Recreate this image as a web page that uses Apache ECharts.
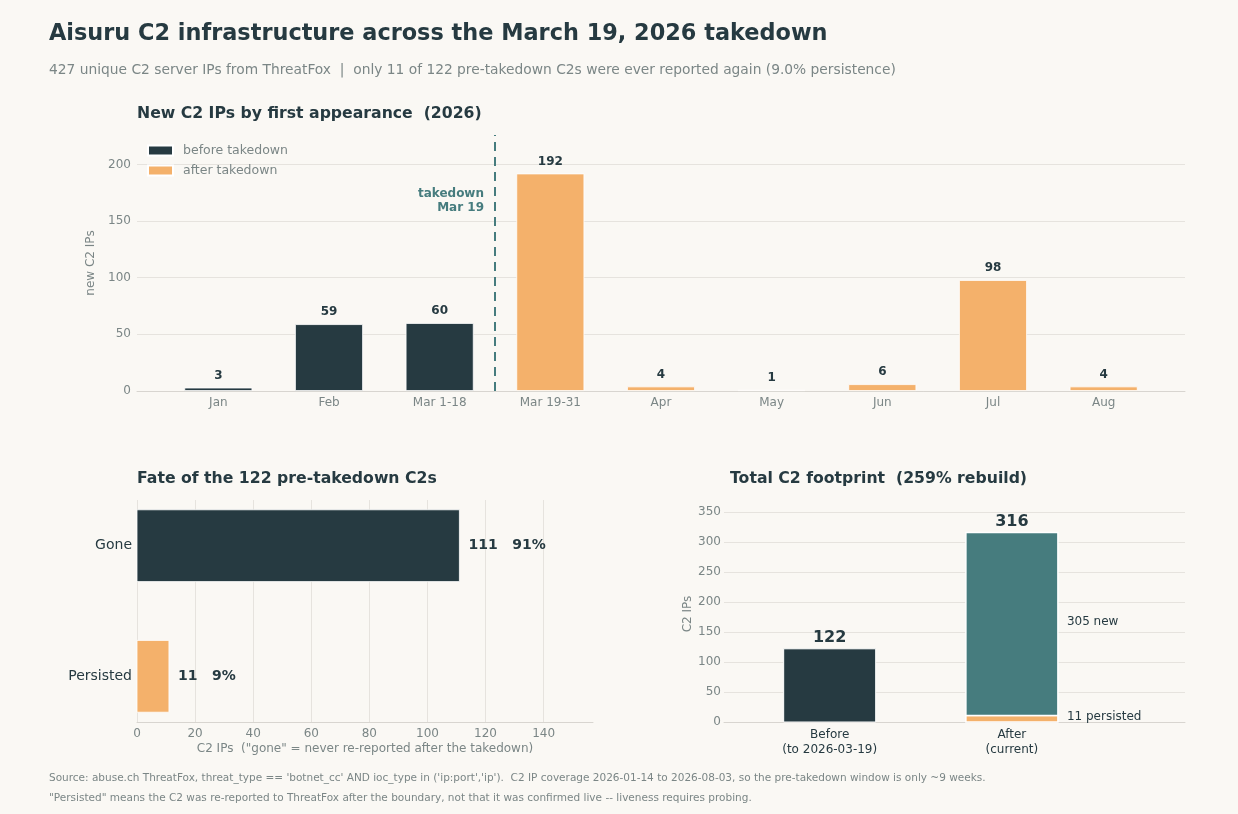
<!DOCTYPE html>
<html>
<head>
<meta charset="utf-8">
<script src="https://cdn.jsdelivr.net/npm/echarts@6/dist/echarts.min.js"></script>
<style>
  html, body { margin: 0; padding: 0; background: #faf8f4; }
  #container { width: 1238px; height: 814px; }
</style>
</head>
<body>
<div id="container"></div>
<script>
// monthly new C2 IPs by first appearance
var months = ['Jan', 'Feb', 'Mar 1-18', 'Mar 19-31', 'Apr', 'May', 'Jun', 'Jul', 'Aug'];
var newIps = [3, 59, 60, 192, 4, 1, 6, 98, 4];
var firstAfterIndex = 3;

// fate of the pre-takedown C2s
var fateCats = ['Gone', 'Persisted'];
var fateValues = [111, 11];
var fatePct = [91, 9];

// total footprint
var footprintCats = ['Before\n(to 2026-03-19)', 'After\n(current)'];
var beforeTotal = 122;
var afterPersisted = 11;
var afterNew = 305;
var afterTotal = 316;

var DARK = '#263a41';
var ORANGE = '#f4b16b';
var TEAL = '#467c7e';
var GRAY = '#7b8686';
var GRID = '#e6e3de';
var AXIS = '#d8d5d0';
var FONT = 'DejaVu Sans';

var dom = document.getElementById('container');
var myChart = echarts.init(dom);

var beforeData = [];
var afterData = [];
newIps.forEach(function (v, i) {
    if (i < firstAfterIndex) {
        beforeData.push([i, v]);
    } else {
        afterData.push([i, v]);
    }
});

var fateData = fateValues.map(function (v, i) {
    return [v, 1 - i, i];
});

// [x, low, high, colour, top label, side label]
var footprintData = [
    [0, 0, beforeTotal, DARK, String(beforeTotal), ''],
    [1, 0, afterPersisted, ORANGE, '', afterPersisted + ' persisted'],
    [1, afterPersisted, afterPersisted + afterNew, TEAL, String(afterTotal), afterNew + ' new']
];

var barLabel = {
    show: true,
    position: 'top',
    distance: 6,
    color: DARK,
    fontWeight: 'bold',
    fontSize: 12
};

var option = {
    backgroundColor: '#faf8f4',
    textStyle: { fontFamily: FONT },
    animation: false,
    title: [{
        text: 'Aisuru C2 infrastructure across the March 19, 2026 takedown',
        left: 44, top: 18,
        textStyle: { color: DARK, fontSize: 22.4, fontWeight: 'bold', fontFamily: FONT }
    }, {
        text: '427 unique C2 server IPs from ThreatFox  |  only 11 of 122 pre-takedown C2s were ever reported again (9.0% persistence)',
        left: 44, top: 58,
        textStyle: { color: GRAY, fontSize: 13.8, fontWeight: 'normal', fontFamily: FONT }
    }, {
        text: 'New C2 IPs by first appearance  (2026)',
        left: 132, top: 101,
        textStyle: { color: DARK, fontSize: 15.7, fontWeight: 'bold', fontFamily: FONT }
    }, {
        text: 'Fate of the 122 pre-takedown C2s',
        left: 132, top: 466,
        textStyle: { color: DARK, fontSize: 15.7, fontWeight: 'bold', fontFamily: FONT }
    }, {
        text: 'Total C2 footprint  (259% rebuild)',
        left: 725, top: 466,
        textStyle: { color: DARK, fontSize: 15.7, fontWeight: 'bold', fontFamily: FONT }
    }, {
        text: "Source: abuse.ch ThreatFox, threat_type == 'botnet_cc' AND ioc_type in ('ip:port','ip').  C2 IP coverage 2026-01-14 to 2026-08-03, so the pre-takedown window is only ~9 weeks.",
        left: 44, top: 768,
        textStyle: { color: GRAY, fontSize: 10.5, fontWeight: 'normal', fontFamily: FONT }
    }, {
        text: '"Persisted" means the C2 was re-reported to ThreatFox after the boundary, not that it was confirmed live -- liveness requires probing.',
        left: 44, top: 788,
        textStyle: { color: GRAY, fontSize: 10.5, fontWeight: 'normal', fontFamily: FONT }
    }],
    legend: {
        data: ['before takedown', 'after takedown'],
        orient: 'vertical',
        left: 142, top: 139,
        itemWidth: 25, itemHeight: 10,
        itemGap: 7,
        icon: 'rect',
        textStyle: { color: GRAY, fontSize: 12.5, fontFamily: FONT, padding: [0, 0, 0, 5] }
    },
    grid: [
        { left: 137, right: 53, top: 135, bottom: 423 },
        { left: 137, right: 645, top: 500, bottom: 92 },
        { left: 724, right: 53, top: 506, bottom: 92 }
    ],
    xAxis: [{
        gridIndex: 0,
        type: 'value',
        min: -0.735, max: 8.735,
        axisLine: { show: true, onZero: false, lineStyle: { color: AXIS } },
        axisTick: { show: false },
        splitLine: { show: false },
        axisLabel: {
            customValues: months.map(function (m, i) { return i; }),
            formatter: function (v) { return months[Math.round(v)]; },
            color: GRAY, fontSize: 12, margin: 6
        }
    }, {
        gridIndex: 1,
        type: 'value',
        min: 0, max: 157, interval: 20,
        name: 'C2 IPs  ("gone" = never re-reported after the takedown)',
        nameLocation: 'middle',
        nameGap: 21,
        nameTextStyle: { color: GRAY, fontSize: 12 },
        axisLine: { show: true, onZero: false, lineStyle: { color: AXIS } },
        axisTick: { show: false },
        splitLine: { show: true, showMaxLine: false, lineStyle: { color: GRID } },
        axisLabel: { color: GRAY, fontSize: 12, margin: 6, showMaxLabel: false }
    }, {
        gridIndex: 2,
        type: 'value',
        min: -0.58, max: 1.95,
        axisLine: { show: true, onZero: false, lineStyle: { color: AXIS } },
        axisTick: { show: false },
        splitLine: { show: false },
        axisLabel: {
            customValues: [0, 1],
            formatter: function (v) { return footprintCats[Math.round(v)]; },
            color: DARK, fontSize: 12, lineHeight: 15, margin: 5
        }
    }],
    yAxis: [{
        gridIndex: 0,
        type: 'value',
        min: 0, max: 226, interval: 50,
        name: 'new C2 IPs',
        nameLocation: 'middle',
        nameGap: 32,
        nameTextStyle: { color: GRAY, fontSize: 12 },
        axisLine: { show: false, onZero: false },
        axisTick: { show: false },
        splitLine: { show: true, showMaxLine: false, lineStyle: { color: GRID } },
        axisLabel: { color: GRAY, fontSize: 12, margin: 6, showMaxLabel: false }
    }, {
        gridIndex: 1,
        type: 'value',
        min: -0.35, max: 1.35,
        axisLine: { show: false, onZero: false },
        axisTick: { show: false },
        splitLine: { show: false },
        axisLabel: {
            customValues: [0, 1],
            formatter: function (v) { return fateCats[1 - Math.round(v)]; },
            color: DARK, fontSize: 14, margin: 5
        }
    }, {
        gridIndex: 2,
        type: 'value',
        min: 0, max: 360, interval: 50,
        name: 'C2 IPs',
        nameLocation: 'middle',
        nameGap: 30,
        nameTextStyle: { color: GRAY, fontSize: 12 },
        axisLine: { show: false, onZero: false },
        axisTick: { show: false },
        splitLine: { show: true, showMaxLine: false, lineStyle: { color: GRID } },
        axisLabel: { color: GRAY, fontSize: 12, margin: 3, showMaxLabel: false }
    }],
    series: [{
        name: 'before takedown',
        type: 'bar',
        xAxisIndex: 0, yAxisIndex: 0,
        data: beforeData,
        barWidth: 68,
        barGap: '-100%',
        itemStyle: { color: DARK, borderColor: '#ffffff', borderWidth: 0.8 },
        label: barLabel
    }, {
        name: 'after takedown',
        type: 'bar',
        xAxisIndex: 0, yAxisIndex: 0,
        data: afterData,
        barWidth: 68,
        barGap: '-100%',
        itemStyle: { color: ORANGE, borderColor: '#ffffff', borderWidth: 0.8 },
        label: barLabel,
        markLine: {
            silent: true,
            symbol: 'none',
            lineStyle: { color: TEAL, type: [9, 6], width: 2 },
            label: { show: false },
            data: [{ xAxis: firstAfterIndex - 0.5 }]
        },
        markPoint: {
            silent: true,
            symbolSize: 0,
            label: {
                show: true,
                position: 'left',
                distance: 11,
                align: 'right',
                color: TEAL,
                fontWeight: 'bold',
                fontSize: 12,
                lineHeight: 14,
                formatter: 'takedown\nMar 19'
            },
            data: [{ coord: [firstAfterIndex - 0.5, 168] }]
        }
    }, {
        name: 'fate',
        type: 'custom',
        xAxisIndex: 1, yAxisIndex: 1,
        data: fateData,
        renderItem: function (params, api) {
            var val = api.value(0);
            var y = api.value(1);
            var i = api.value(2);
            var start = api.coord([0, y]);
            var end = api.coord([val, y]);
            var h = api.size([0, 0.55])[1];
            return {
                type: 'group',
                children: [{
                    type: 'rect',
                    shape: { x: start[0], y: start[1] - h / 2, width: end[0] - start[0], height: h },
                    style: { fill: i === 0 ? DARK : ORANGE, stroke: '#ffffff', lineWidth: 0.8 }
                }, {
                    type: 'text',
                    style: {
                        text: fateValues[i] + '   ' + fatePct[i] + '%',
                        x: end[0] + 9,
                        y: end[1],
                        align: 'left',
                        verticalAlign: 'middle',
                        fill: DARK,
                        font: 'bold 14px "DejaVu Sans"'
                    }
                }]
            };
        }
    }, {
        name: 'footprint',
        type: 'custom',
        xAxisIndex: 2, yAxisIndex: 2,
        data: footprintData,
        renderItem: function (params, api) {
            var row = footprintData[params.dataIndex];
            var x = api.value(0);
            var lo = api.value(1);
            var hi = api.value(2);
            var w = api.size([0.505, 0])[0];
            var p0 = api.coord([x, lo]);
            var p1 = api.coord([x, hi]);
            var children = [{
                type: 'rect',
                shape: { x: p0[0] - w / 2, y: p1[1], width: w, height: p0[1] - p1[1] },
                style: { fill: row[3], stroke: '#ffffff', lineWidth: row[3] === DARK ? 1 : 1.5 }
            }];
            if (row[4]) {
                children.push({
                    type: 'text',
                    style: {
                        text: row[4], x: p1[0], y: p1[1] - 3,
                        align: 'center', verticalAlign: 'bottom',
                        fill: DARK, font: 'bold 16px "DejaVu Sans"'
                    }
                });
            }
            if (row[5]) {
                children.push({
                    type: 'text',
                    style: {
                        text: row[5], x: p0[0] + w / 2 + 9, y: (p0[1] + p1[1]) / 2 - 2,
                        align: 'left', verticalAlign: 'middle',
                        fill: DARK, font: '12px "DejaVu Sans"'
                    }
                });
            }
            return { type: 'group', children: children };
        }
    }]
};

myChart.setOption(option);
</script>
</body>
</html>
